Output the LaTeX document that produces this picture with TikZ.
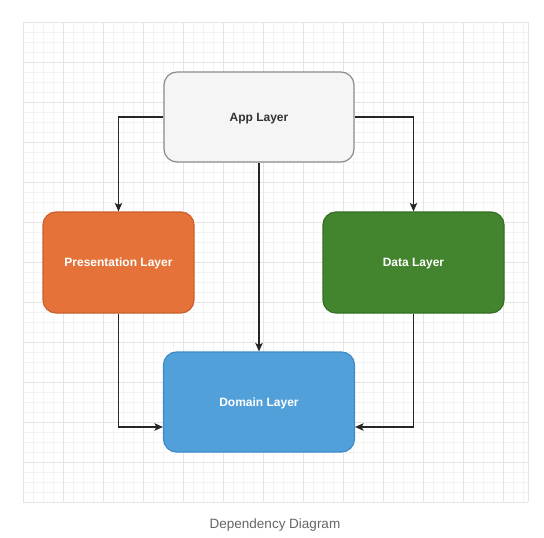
\documentclass[tikz,border=0pt]{standalone}
\usepackage{fontspec}
\setmainfont{Liberation Sans}
\usetikzlibrary{arrows.meta}
\definecolor{minorgrid}{HTML}{F3F3F3}
\definecolor{majorgrid}{HTML}{E4E4E4}
\definecolor{appfill}{HTML}{F5F5F5}
\definecolor{appdraw}{HTML}{8C8C8C}
\definecolor{orfill}{HTML}{E57339}
\definecolor{ordraw}{HTML}{C9602E}
\definecolor{grfill}{HTML}{43852E}
\definecolor{grdraw}{HTML}{356E23}
\definecolor{blfill}{HTML}{52A0DA}
\definecolor{bldraw}{HTML}{3F8BC8}
\definecolor{captcol}{HTML}{666666}
\definecolor{apptext}{HTML}{333333}
\tikzset{
  layer/.style={rectangle, rounded corners=13pt, line width=1.2pt, inner sep=0pt,
    font=\fontsize{12}{14}\selectfont\bfseries, align=center, text depth=0pt},
  arr/.style={line width=1.1pt, draw=black!85, -{Stealth[length=8.5pt,width=7.5pt,inset=2pt]}},
}
\begin{document}
\begin{tikzpicture}[x=1pt,y=-1pt]
\useasboundingbox[fill=white] (0,0) rectangle (544,538);
% grid
\foreach \x in {23,33,...,523} \draw[minorgrid,line width=0.6pt] (\x,22) -- (\x,502);
\foreach \y in {22,32,...,502} \draw[minorgrid,line width=0.6pt] (23,\y) -- (528,\y);
\foreach \x in {23,63,...,503} \draw[majorgrid,line width=0.8pt] (\x,22) -- (\x,502);
\foreach \y in {22,62,...,502} \draw[majorgrid,line width=0.8pt] (23,\y) -- (528,\y);
\draw[majorgrid,line width=0.8pt] (528,22) -- (528,502);
% nodes
\node[layer, fill=appfill, draw=appdraw, text=apptext, minimum width=190pt, minimum height=90pt] (app) at (259,117) {App Layer};
\node[layer, fill=orfill, draw=ordraw, text=white, minimum width=151pt, minimum height=101pt] (pres) at (118.5,262.5) {Presentation Layer};
\node[layer, fill=grfill, draw=grdraw, text=white, minimum width=181pt, minimum height=101pt] (data) at (413.5,262.5) {Data Layer};
\node[layer, fill=blfill, draw=bldraw, text=white, minimum width=191pt, minimum height=100pt] (dom) at (259,402) {Domain Layer};
% connectors
\draw[arr] (app.west) -| (pres.north);
\draw[arr] (app.east) -| (data.north);
\draw[arr] (app.south) -- (dom.north);
\draw[arr] (pres.south) |- ([yshift=-25pt]dom.west);
\draw[arr] (data.south) |- ([yshift=-25pt]dom.east);
% caption
\node[text=captcol, font=\fontsize{13.5}{15}\selectfont] (cap) at (275,525) {Dependency Diagram};
\end{tikzpicture}
\end{document}
